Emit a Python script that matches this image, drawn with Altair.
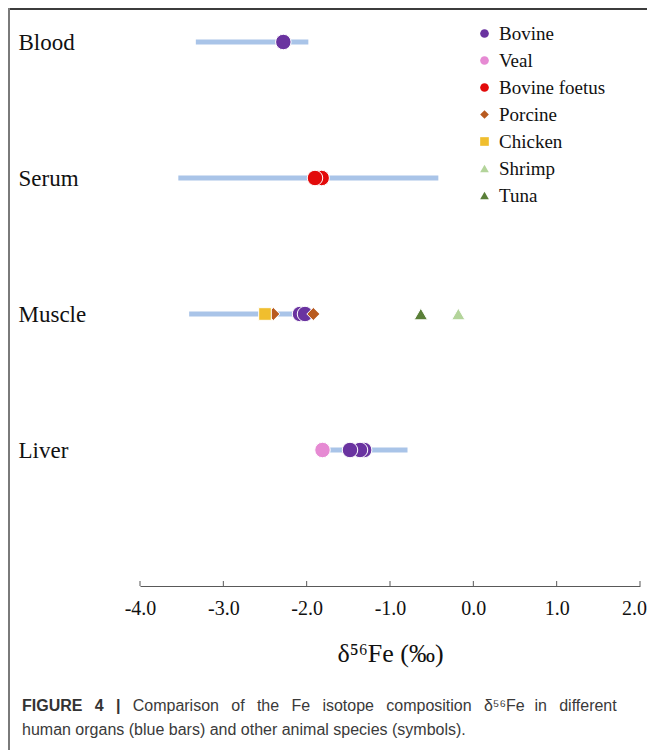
import altair as alt
import pandas as pd

# ---------------- data ----------------
organs = ["Blood", "Serum", "Muscle", "Liver"]
organ_pos = [4, 3, 2, 1]
bar_low = [-3.33, -3.54, -3.41, -1.78]
bar_high = [-1.98, -0.42, -1.95, -0.79]

species_order = ["Bovine", "Veal", "Bovine foetus", "Porcine", "Chicken", "Shrimp", "Tuna"]
species_colors = ["#6a33a0", "#e68ad3", "#e20a0a", "#b85a1f", "#f0be2e", "#b3d49a", "#5a7f38"]
species_shapes = ["circle", "circle", "circle", "diamond", "square", "triangle-up", "triangle-up"]

# points listed in drawing order
pt_species = ["Bovine", "Bovine foetus", "Bovine foetus",
              "Porcine", "Chicken", "Bovine", "Bovine", "Porcine", "Tuna", "Shrimp",
              "Bovine", "Bovine", "Bovine", "Veal"]
pt_organ = ["Blood", "Serum", "Serum",
            "Muscle", "Muscle", "Muscle", "Muscle", "Muscle", "Muscle", "Muscle",
            "Liver", "Liver", "Liver", "Liver"]
pt_value = [-2.28, -1.82, -1.90,
            -2.40, -2.50, -2.08, -2.02, -1.92, -0.63, -0.18,
            -1.31, -1.36, -1.48, -1.81]

x_ticks = [-4, -3, -2, -1, 0, 1, 2]
x_title = "δ⁵⁶Fe (‰)"
caption_line1_words = [("FIGURE", True), ("4", True), ("|", True), ("Comparison", False),
                       ("of", False), ("the", False), ("Fe", False), ("isotope", False),
                       ("composition", False), ("δ⁵⁶Fe", False), ("in", False),
                       ("different", False)]
caption_line2 = "human organs (blue bars) and other animal species (symbols)."

# ---------------- tables ----------------
pos_map = dict(zip(organs, organ_pos))
bars = pd.DataFrame({"organ": organs, "pos": organ_pos, "lo": bar_low, "hi": bar_high})
pts = pd.DataFrame({"species": pt_species, "organ": pt_organ, "value": pt_value})
pts["pos"] = pts["organ"].map(pos_map)
pts["order"] = range(len(pts))
ticks = pd.DataFrame({"t": x_ticks})

# justified first caption line: approximate Arial advance widths (1/1000 em)
CAP_SIZE = 16
W_REG = {"C": 722, "o": 556, "m": 833, "p": 556, "a": 556, "r": 333, "i": 222, "s": 500,
         "n": 556, "f": 278, "t": 278, "h": 556, "e": 556, "F": 611, "d": 556, "c": 500,
         "δ": 556, "⁵": 333, "⁶": 333}
W_BOLD = {"F": 611, "I": 278, "G": 778, "U": 722, "R": 722, "E": 667, "4": 556, "|": 280}


def word_width(w, bold):
    tbl = W_BOLD if bold else W_REG
    return sum(tbl.get(ch, 556) for ch in w) * CAP_SIZE / 1000.0


line_left, line_right = -118, 477  # relative to plot origin
widths = [word_width(w, b) for w, b in caption_line1_words]
gap = (line_right - line_left - sum(widths)) / (len(widths) - 1)
xs, cur = [], line_left
for wd in widths:
    xs.append(cur)
    cur += wd + gap
cap1 = pd.DataFrame({"word": [w for w, _ in caption_line1_words],
                     "bold": [b for _, b in caption_line1_words], "px": xs})
cap2 = pd.DataFrame({"text": [caption_line2]})

label_expr = " : ".join(
    [f"datum.value == {p} ? '{o}'" for o, p in zip(organs, organ_pos)]) + " : ''"

x_scale = alt.Scale(domain=[-4, 2], nice=False, zero=False)
y_scale = alt.Scale(domain=[0, 4.25], nice=False, zero=False)

x_axis = alt.Axis(
    values=x_ticks, ticks=False, grid=False, domainColor="#595959", domainWidth=1,
    labelExpr="(datum.value < 0 ? '-' : '') + format(abs(datum.value), '.1f')",
    labelFlush=False, labelOverlap=False, labelBound=False,
    labelOffset={"expr": "datum.value == 2 ? -6 : 0"},
    labelFont="Liberation Serif", labelFontSize=20, labelColor="#111111", labelPadding=12,
    title=x_title, titleFont="Liberation Serif", titleFontSize=26, titleFontWeight="normal",
    titleColor="#111111", titlePadding=22,
)
y_axis = alt.Axis(
    values=organ_pos, labelExpr=label_expr, ticks=False, tickSize=0, domain=False, grid=False,
    labelAlign="left", labelBaseline="middle", labelPadding=122,
    labelFont="Liberation Serif", labelFontSize=23, labelColor="#111111", title=None,
)

color_scale = alt.Scale(domain=species_order, range=species_colors)
shape_scale = alt.Scale(domain=species_order, range=species_shapes)
legend = alt.Legend(
    title=None, orient="none", legendX=335, legendY=16, symbolSize=75, symbolStrokeWidth=0,
    labelFont="Liberation Serif", labelFontSize=19, labelColor="#111111",
    rowPadding=7, labelOffset=5, padding=0,
)

base_bars = alt.Chart(bars).mark_rule(color="#a9c4e8", strokeWidth=5).encode(
    x=alt.X("lo:Q", scale=x_scale, axis=x_axis),
    x2="hi:Q",
    y=alt.Y("pos:Q", scale=y_scale, axis=y_axis),
)

tick_marks = alt.Chart(ticks).mark_rule(color="#595959", strokeWidth=1).encode(
    x=alt.X("t:Q", scale=x_scale),
    y=alt.value(578), y2=alt.value(573),
)


def point_layer(names, size):
    return alt.Chart(pts).transform_filter(
        alt.FieldOneOfPredicate(field="species", oneOf=names)
    ).mark_point(filled=True, opacity=1, stroke="white", strokeWidth=1, size=size).encode(
        x=alt.X("value:Q", scale=x_scale),
        y=alt.Y("pos:Q", scale=y_scale),
        color=alt.Color("species:N", scale=color_scale, legend=legend),
        shape=alt.Shape("species:N", scale=shape_scale, legend=legend),
        order=alt.Order("order:Q"),
    )


circles = point_layer(["Bovine", "Veal", "Bovine foetus"], 240)
diamonds = point_layer(["Porcine"], 170)
squares = point_layer(["Chicken"], 160)
triangles = point_layer(["Shrimp", "Tuna"], 180)

frame_top = alt.Chart(ticks).mark_rule(color="#3c3c3c", strokeWidth=2).encode(
    x=alt.value(-132), x2=alt.value(520), y=alt.value(1)
)
frame_left = alt.Chart(ticks).mark_rule(color="#7a7a7a", strokeWidth=2).encode(
    x=alt.value(-131), y=alt.value(0), y2=alt.value(742)
)

cap_font = "Liberation Sans"
cap_l1_bold = alt.Chart(cap1).transform_filter("datum.bold").mark_text(
    font=cap_font, fontSize=CAP_SIZE, fontWeight="bold", color="#333333",
    align="left", baseline="alphabetic",
).encode(text="word:N", x=alt.X("px:Q", scale=None), y=alt.value(703))
cap_l1_reg = alt.Chart(cap1).transform_filter("!datum.bold").mark_text(
    font=cap_font, fontSize=CAP_SIZE, color="#3a3a3a", align="left", baseline="alphabetic",
).encode(text="word:N", x=alt.X("px:Q", scale=None), y=alt.value(703))
cap_l2 = alt.Chart(cap2).mark_text(
    font=cap_font, fontSize=CAP_SIZE, color="#3a3a3a", align="left", baseline="alphabetic",
).encode(text="text:N", x=alt.value(-118), y=alt.value(727))

chart = alt.layer(
    base_bars, tick_marks, circles, diamonds, squares, triangles,
    frame_top, frame_left, cap_l1_bold, cap_l1_reg, cap_l2,
).properties(
    width=500, height=578,
    autosize=alt.AutoSizeParams(type="none"),
    padding={"left": 132, "top": 0, "right": 7, "bottom": 164},
    background="white",
).configure_view(strokeWidth=0, stroke="transparent")

chart.save("out.html", embed_options={"renderer": "svg", "actions": False})
